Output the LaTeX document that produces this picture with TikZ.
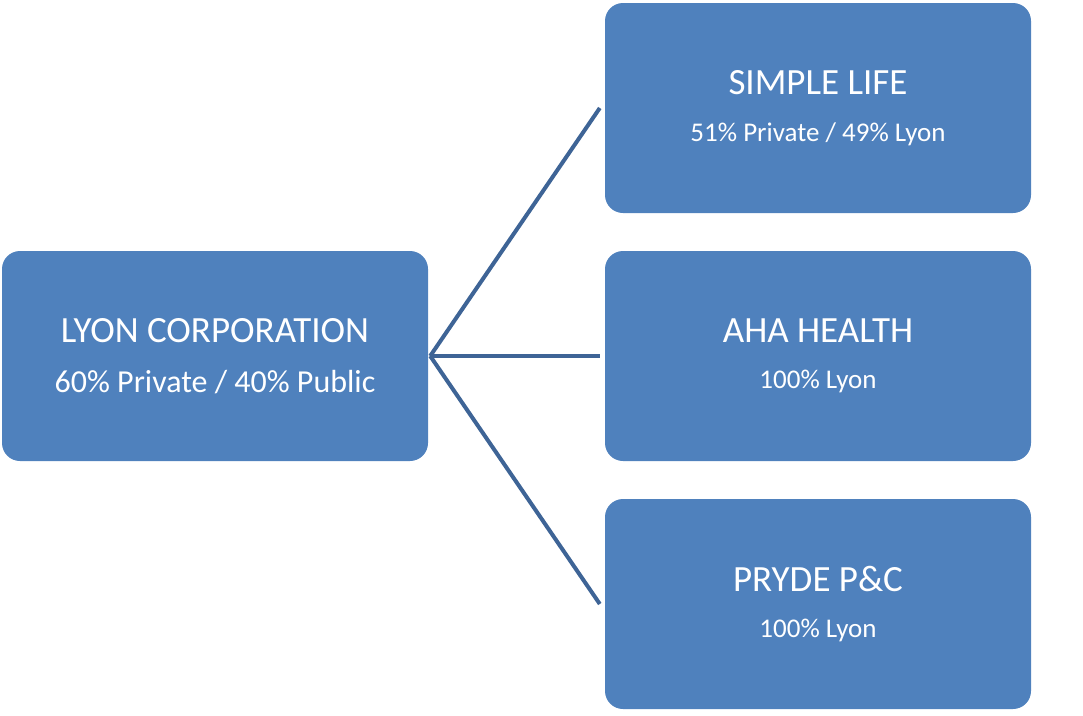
\documentclass[tikz,border=0pt]{standalone}
\usepackage{fontspec}
\setmainfont{Carlito}
\usepackage{tikz}

\definecolor{boxblue}{RGB}{79,129,189}
\definecolor{lineblue}{RGB}{62,100,150}

\newcommand{\boxtext}[3]{\fontsize{37}{50}\selectfont #1\\[27pt]\fontsize{#3}{50}\selectfont #2}

\begin{document}
\begin{tikzpicture}[x=1pt,y=1pt,
  corpbox/.style={rectangle,rounded corners=18pt,fill=boxblue,text=white,
    minimum width=426pt,minimum height=210pt,align=center,inner sep=0pt},
  level/.style={level distance=603pt,sibling distance=248pt}]
\useasboundingbox (0,0) rectangle (1083,-715);
\node [corpbox] (lyon) at (215,-356) {\boxtext{LYON CORPORATION}{60\% Private / 40\% Public}{32}}
  [grow'=right,
   edge from parent/.style={draw=lineblue,line width=4pt},
   edge from parent path={([xshift=2pt]\tikzparentnode.east) -- ([xshift=-5pt]\tikzchildnode.west)}]
  child {node [corpbox] (simple) {\boxtext{SIMPLE LIFE}{51\% Private / 49\% Lyon}{27}}}
  child {node [corpbox] (aha) {\boxtext{AHA HEALTH}{100\% Lyon}{27}}}
  child {node [corpbox] (pryde) {\boxtext{PRYDE P\&C}{100\% Lyon}{27}}};
\end{tikzpicture}
\end{document}
